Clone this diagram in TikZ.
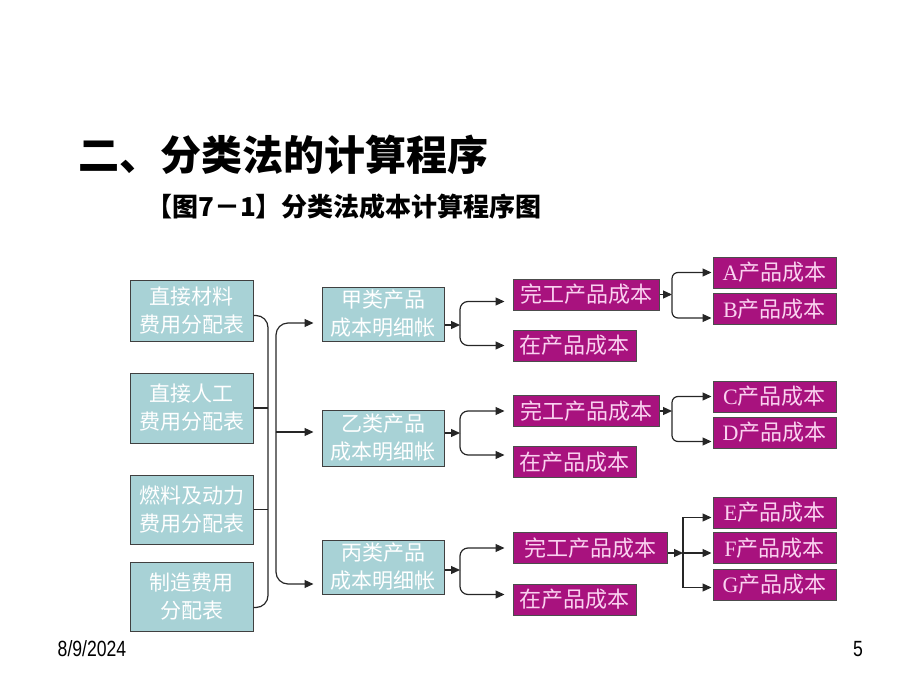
\documentclass[tikz,border=0pt]{standalone}
\usepackage{fontspec}
\setmainfont{Liberation Serif}
\setsansfont{Liberation Sans}
\newfontfamily\cjk{Noto Sans CJK SC}
\usetikzlibrary{
	arrows.meta,
	calc,
	positioning,
}
\definecolor{tabfill}{RGB}{168,210,214}
\definecolor{prodfill}{RGB}{168,18,126}
\definecolor{prodtext}{RGB}{250,210,240}
\tikzset{table node/.style={draw=black!75,fill=tabfill,line width=1pt,inner sep=0mm,minimum width=123pt,align=center,text=white,font=\cjk\fontsize{21}{28}\selectfont,}}
\tikzset{account node/.style={table node,minimum width=122pt,minimum height=54pt,}}
\tikzset{cost node/.style={draw=black!70,fill=prodfill,line width=1pt,inner sep=0mm,minimum width=123pt,minimum height=31pt,text=prodtext,font=\cjk\fontsize{22}{22}\selectfont,}}
\tikzset{link/.style={line width=1.2pt,black!85,}}
\tikzset{
	>={Triangle[length=9pt,width=8pt]},
}

\begin{document}
\begin{tikzpicture}[x=1pt,y=-1pt]
\useasboundingbox (0,0) rectangle (920,690);

\node[anchor=west,inner sep=0,font=\cjk\bfseries\fontsize{41}{41}\selectfont](title) at(78,155) {二、分类法的计算程序};
\node[anchor=west,inner sep=0,font=\cjk\bfseries\fontsize{26}{26}\selectfont](sub) at(146,207) {【图7－1】分类法成本计算程序图};

% allocation tables
\node[table node,minimum height=61pt](t1) at(191.5,310.5) {直接材料\\费用分配表};
\node[table node,minimum height=70pt](t2) at(191.5,408) {直接人工\\费用分配表};
\node[table node,minimum height=69pt](t3) at(191.5,509.5) {燃料及动力\\费用分配表};
\node[table node,minimum height=69pt](t4) at(191.5,596.5) {制造费用\\分配表};

% cost accounts
\node[account node](a1) at(383,314) {甲类产品\\成本明细帐};
\node[account node,minimum height=56pt](a2) at(383,438) {乙类产品\\成本明细帐};
\node[account node](a3) at(383,567) {丙类产品\\成本明细帐};

\node[cost node,minimum width=146pt](d1) at(586,294.5) {完工产品成本};
\node[cost node](w1) at(574.5,345.5) {在产品成本};
\node[cost node,minimum width=146pt](d2) at(586,411) {完工产品成本};
\node[cost node](w2) at(574.5,462) {在产品成本};
\node[cost node,minimum width=154pt](d3) at(590,548) {完工产品成本};
\node[cost node](w3) at(574.5,599.5) {在产品成本};

\node[cost node](pA) at(774.5,272.5) {\textrm{A}产品成本};
\node[cost node](pB) at(774.5,309) {\textrm{B}产品成本};
\node[cost node](pC) at(774.5,396.5) {\textrm{C}产品成本};
\node[cost node](pD) at(774.5,432.5) {\textrm{D}产品成本};
\node[cost node](pE) at(774.5,512.5) {\textrm{E}产品成本};
\node[cost node](pF) at(774.5,548) {\textrm{F}产品成本};
\node[cost node](pG) at(774.5,584.5) {\textrm{G}产品成本};

\coordinate(l0) at(268,460);
\coordinate(r0) at(276,432);
\coordinate(g1) at(460,325);
\coordinate(g2) at(460,433);
\coordinate(g3) at(460,570);
\coordinate(h1) at(672,294.5);
\coordinate(h2) at(672,411);
\coordinate(h3) at(683,553);

% brace in, brace out
\draw[link,rounded corners=12pt] ($(t1.east)+(0,5)$) -| (l0) |- ($(t4.east)+(0,11)$);
\draw[link] (t2.east) -- (t2.east -| l0);
\draw[link] (t3.east) -- (t3.east -| l0);

\draw[link,->,rounded corners=12pt,shorten >=8pt] (r0) |- ($(a1.west)+(0,9)$);
\draw[link,->,shorten >=8pt] (r0) -- (r0 -| a2.west);
\draw[link,->,rounded corners=12pt,shorten >=8pt] (r0) |- ($(a3.west)+(0,17)$);

\draw[link,->] ($(a1.east)+(0,11)$) -- (g1);
\draw[link,->,rounded corners=8pt,shorten >=8pt] (g1) |- ($(d1.west)+(0,7)$);
\draw[link,->,rounded corners=8pt,shorten >=8pt] (g1) |- (w1.west);
\draw[link,->] ($(a2.east)+(0,-5)$) -- (g2);
\draw[link,->,rounded corners=8pt,shorten >=8pt] (g2) |- (d2.west);
\draw[link,->,rounded corners=8pt,shorten >=8pt] (g2) |- ($(w2.west)+(0,-7)$);
\draw[link,->] ($(a3.east)+(0,3)$) -- (g3);
\draw[link,->,rounded corners=8pt,shorten >=8pt] (g3) |- (d3.west);
\draw[link,->,rounded corners=8pt,shorten >=8pt] (g3) |- ($(w3.west)+(0,-5)$);

\draw[link,->] (d1.east) -- (h1);
\draw[link,->,rounded corners=6pt,shorten >=1pt] (h1) |- (pA.west);
\draw[link,->,rounded corners=6pt,shorten >=1pt] (h1) |- ($(pB.west)+(0,9)$);
\draw[link,->] (d2.east) -- (h2);
\draw[link,->,rounded corners=6pt,shorten >=1pt] (h2) |- (pC.west);
\draw[link,->,rounded corners=6pt,shorten >=1pt] (h2) |- ($(pD.west)+(0,9)$);
\draw[link,->] ($(d3.east)+(0,5)$) -- (h3);
\draw[link,->,shorten >=1pt] (h3) |- ($(pE.west)+(0,5)$);
\draw[link,->,shorten >=1pt] (h3) -- ($(pF.west)+(0,5)$);
\draw[link,->,shorten >=1pt] (h3) |- ($(pG.west)+(0,3)$);

\node[inner sep=0,font=\sffamily\fontsize{22}{22}\selectfont](date) at(92,649) {\scalebox{0.8}[1]{8/9/2024}};
\node[inner sep=0,font=\sffamily\fontsize{22}{22}\selectfont](page) at(858,649) {\scalebox{0.8}[1]{5}};

\end{tikzpicture}
\end{document}
